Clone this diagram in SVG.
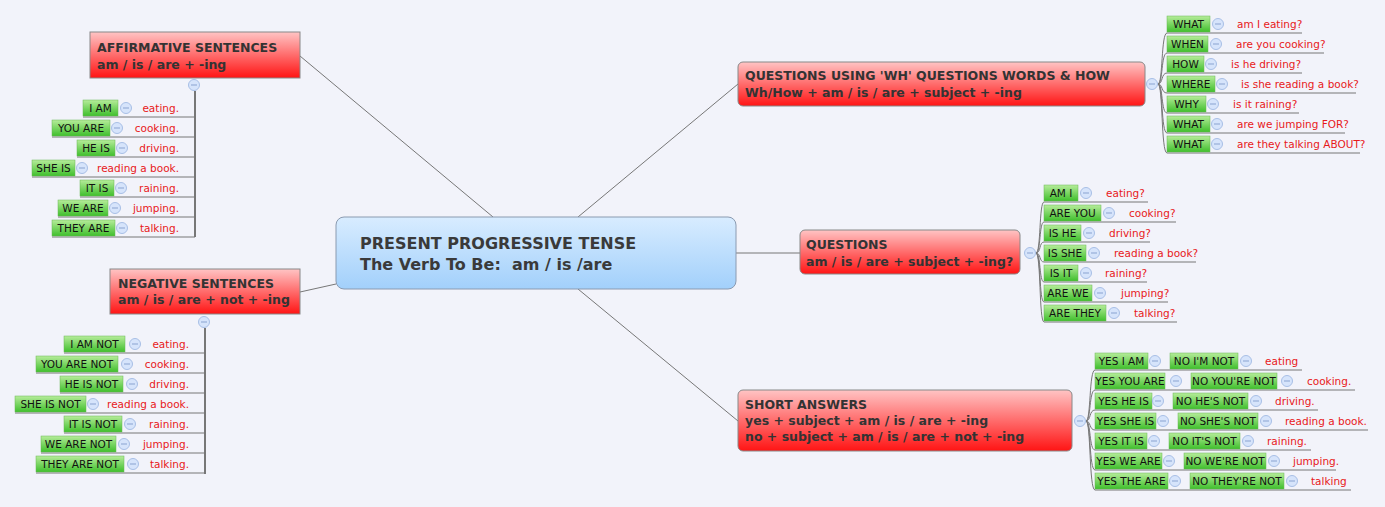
<svg xmlns="http://www.w3.org/2000/svg" xmlns:xlink="http://www.w3.org/1999/xlink" width="1385" height="507" viewBox="0 0 1385 507">
<style>
text{font-family:"DejaVu Sans","Liberation Sans",sans-serif}
.mt{font-size:16px;font-weight:bold;fill:#3a3a3a}
.st{font-size:12.5px;font-weight:bold;fill:#333}
.g{fill:url(#gg);stroke:#6ab855;stroke-width:0.5}
.gt{font-size:10.5px;fill:#111;text-anchor:middle}
.rt{font-size:10.5px;fill:#e8191b}
.ra{font-size:10.5px;fill:#e8191b;text-anchor:end}
.u{stroke:#777;stroke-width:1;fill:none}
.sub{fill:url(#rg);stroke:#888;stroke-width:1}
</style>
<defs>
<linearGradient id="gg" x1="0" y1="0" x2="0" y2="1"><stop offset="0" stop-color="#b6ec9a"/><stop offset="1" stop-color="#3fbf2c"/></linearGradient>
<linearGradient id="rg" x1="0" y1="0" x2="0" y2="1"><stop offset="0" stop-color="#ffc4c4"/><stop offset="1" stop-color="#ff1414"/></linearGradient>
<linearGradient id="bg" x1="0" y1="0" x2="0" y2="1"><stop offset="0" stop-color="#d8ecff"/><stop offset="1" stop-color="#a2d0fb"/></linearGradient>
<symbol id="c" viewBox="-7 -7 14 14" width="14" height="14" overflow="visible"><circle r="5.5" fill="#d6e4fb" stroke="#a8bfe6"/><line x1="-3" y1="0" x2="3" y2="0" stroke="#8aa3d0"/></symbol>
</defs>
<rect width="1385" height="507" fill="#f2f3fa"/>
<g id="connectors" stroke="#777" fill="none">
<line x1="493" y1="217" x2="300" y2="56"/>
<line x1="336" y1="284" x2="300" y2="292"/>
<line x1="578" y1="217" x2="738" y2="84"/>
<line x1="736" y1="253" x2="800" y2="253"/>
<line x1="578" y1="289" x2="738" y2="421"/>
<line x1="195" y1="91" x2="195" y2="237" stroke-width="2"/>
<line x1="205" y1="328" x2="205" y2="474" stroke-width="2"/>
<path d="M1158 84 C1163 84 1161 33 1167 33 M1158 84 C1163 84 1161 53 1167 53 M1158 84 C1163 84 1161 73 1167 73 M1158 84 C1163 84 1161 93 1167 93 M1158 84 C1163 84 1161 113 1167 113 M1158 84 C1163 84 1161 133 1167 133 M1158 84 C1163 84 1161 153 1167 153"/>
<path d="M1036 253 C1041 253 1039 202 1044 202 M1036 253 C1041 253 1039 222 1044 222 M1036 253 C1041 253 1039 242 1044 242 M1036 253 C1041 253 1039 262 1044 262 M1036 253 C1041 253 1039 282 1044 282 M1036 253 C1041 253 1039 302 1044 302 M1036 253 C1041 253 1039 322 1044 322"/>
<path d="M1086 421 C1091 421 1089 370 1095 370 M1086 421 C1091 421 1089 390 1095 390 M1086 421 C1091 421 1089 410 1095 410 M1086 421 C1091 421 1089 430 1095 430 M1086 421 C1091 421 1089 450 1095 450 M1086 421 C1091 421 1089 470 1095 470 M1086 421 C1091 421 1089 490 1095 490"/>
<path class="u" d="M83 117H195M52 137H195M77 157H195M32 177H195M80 197H195M58 217H195M52 237H195"/>
<path class="u" d="M64 353H205M36 373H205M60 393H205M15 413H205M64 433H205M41 453H205M36 473H205"/>
<path class="u" d="M1167 33H1302M1167 53H1324M1167 73H1302M1167 93H1356M1167 113H1299M1167 133H1345M1167 153H1360"/>
<path class="u" d="M1044 202H1148M1044 222H1176M1044 242H1150M1044 262H1196M1044 282H1147M1044 302H1168M1044 322H1177"/>
<path class="u" d="M1095 370H1302M1095 390H1355M1095 410H1318M1095 430H1368M1095 450H1311M1095 470H1336M1095 490H1351"/>
</g>
<g id="central">
<rect x="336" y="217" width="400" height="72" rx="8" fill="url(#bg)" stroke="#8a9ab0"/>
<text class="mt" x="360" y="249">PRESENT PROGRESSIVE TENSE</text>
<text class="mt" x="360" y="270" xml:space="preserve">The Verb To Be:  am / is /are</text>
</g>
<g id="affirmative">
<rect class="sub" x="90" y="32" width="210" height="46"/>
<text class="st" x="97" y="52">AFFIRMATIVE SENTENCES</text>
<text class="st" x="97" y="69">am / is / are + -ing</text>
<use href="#c" x="187" y="78"/>
<rect class="g" x="83" y="100" width="35" height="16"/><text class="gt" x="100.5" y="112">I AM</text><use href="#c" x="119" y="101"/><text class="ra" x="179" y="112">eating.</text>
<rect class="g" x="52" y="120" width="58" height="16"/><text class="gt" x="81" y="132">YOU ARE</text><use href="#c" x="110" y="121"/><text class="ra" x="179" y="132">cooking.</text>
<rect class="g" x="77" y="140" width="38" height="16"/><text class="gt" x="96" y="152">HE IS</text><use href="#c" x="115" y="141"/><text class="ra" x="179" y="152">driving.</text>
<rect class="g" x="32" y="160" width="43" height="16"/><text class="gt" x="53.5" y="172">SHE IS</text><use href="#c" x="75" y="161"/><text class="ra" x="179" y="172">reading a book.</text>
<rect class="g" x="80" y="180" width="34" height="16"/><text class="gt" x="97" y="192">IT IS</text><use href="#c" x="114" y="181"/><text class="ra" x="179" y="192">raining.</text>
<rect class="g" x="58" y="200" width="50" height="16"/><text class="gt" x="83" y="212">WE ARE</text><use href="#c" x="108" y="201"/><text class="ra" x="179" y="212">jumping.</text>
<rect class="g" x="52" y="220" width="63" height="16"/><text class="gt" x="83.5" y="232">THEY ARE</text><use href="#c" x="115" y="221"/><text class="ra" x="179" y="232">talking.</text>
</g>
<g id="negative">
<rect class="sub" x="110" y="269" width="190" height="45"/>
<text class="st" x="118" y="288">NEGATIVE SENTENCES</text>
<text class="st" x="118" y="304">am / is / are + not + -ing</text>
<use href="#c" x="197" y="315"/>
<rect class="g" x="64" y="336" width="61" height="16"/><text class="gt" x="94.5" y="348">I AM NOT</text><use href="#c" x="128" y="337"/><text class="ra" x="189" y="348">eating.</text>
<rect class="g" x="36" y="356" width="82" height="16"/><text class="gt" x="77" y="368">YOU ARE NOT</text><use href="#c" x="120" y="357"/><text class="ra" x="189" y="368">cooking.</text>
<rect class="g" x="60" y="376" width="63" height="16"/><text class="gt" x="91.5" y="388">HE IS NOT</text><use href="#c" x="125" y="377"/><text class="ra" x="189" y="388">driving.</text>
<rect class="g" x="15" y="396" width="71" height="16"/><text class="gt" x="50.5" y="408">SHE IS NOT</text><use href="#c" x="86" y="397"/><text class="ra" x="189" y="408">reading a book.</text>
<rect class="g" x="64" y="416" width="58" height="16"/><text class="gt" x="93" y="428">IT IS NOT</text><use href="#c" x="123" y="417"/><text class="ra" x="189" y="428">raining.</text>
<rect class="g" x="41" y="436" width="75" height="16"/><text class="gt" x="78.5" y="448">WE ARE NOT</text><use href="#c" x="117" y="437"/><text class="ra" x="189" y="448">jumping.</text>
<rect class="g" x="36" y="456" width="88" height="16"/><text class="gt" x="80" y="468">THEY ARE NOT</text><use href="#c" x="126" y="457"/><text class="ra" x="189" y="468">talking.</text>
</g>
<g id="wh-questions">
<rect class="sub" x="738" y="62" width="407" height="44" rx="5"/>
<text class="st" x="745" y="80">QUESTIONS USING 'WH' QUESTIONS WORDS &amp; HOW</text>
<text class="st" x="745" y="97">Wh/How + am / is / are + subject + -ing</text>
<use href="#c" x="1145" y="77"/>
<rect class="g" x="1167" y="16" width="43" height="16"/><text class="gt" x="1188.5" y="28">WHAT</text><use href="#c" x="1211" y="17"/><text class="rt" x="1237" y="28">am I eating?</text>
<rect class="g" x="1167" y="36" width="41" height="16"/><text class="gt" x="1187.5" y="48">WHEN</text><use href="#c" x="1209" y="37"/><text class="rt" x="1236" y="48">are you cooking?</text>
<rect class="g" x="1167" y="56" width="37" height="16"/><text class="gt" x="1185.5" y="68">HOW</text><use href="#c" x="1204" y="57"/><text class="rt" x="1231" y="68">is he driving?</text>
<rect class="g" x="1167" y="76" width="48" height="16"/><text class="gt" x="1191" y="88">WHERE</text><use href="#c" x="1215" y="77"/><text class="rt" x="1241" y="88">is she reading a book?</text>
<rect class="g" x="1167" y="96" width="39" height="16"/><text class="gt" x="1186.5" y="108">WHY</text><use href="#c" x="1206" y="97"/><text class="rt" x="1233" y="108">is it raining?</text>
<rect class="g" x="1167" y="116" width="43" height="16"/><text class="gt" x="1188.5" y="128">WHAT</text><use href="#c" x="1210" y="117"/><text class="rt" x="1237" y="128">are we jumping FOR?</text>
<rect class="g" x="1167" y="136" width="43" height="16"/><text class="gt" x="1188.5" y="148">WHAT</text><use href="#c" x="1210" y="137"/><text class="rt" x="1237" y="148">are they talking ABOUT?</text>
</g>
<g id="questions">
<rect class="sub" x="800" y="230" width="220" height="44" rx="5"/>
<text class="st" x="806" y="249">QUESTIONS</text>
<text class="st" x="806" y="266">am / is / are + subject + -ing?</text>
<use href="#c" x="1023" y="246"/>
<rect class="g" x="1044" y="185" width="34" height="16"/><text class="gt" x="1061" y="197">AM I</text><use href="#c" x="1079" y="186"/><text class="rt" x="1106" y="197">eating?</text>
<rect class="g" x="1044" y="205" width="57" height="16"/><text class="gt" x="1072.5" y="217">ARE YOU</text><use href="#c" x="1102" y="206"/><text class="rt" x="1129" y="217">cooking?</text>
<rect class="g" x="1044" y="225" width="37" height="16"/><text class="gt" x="1062.5" y="237">IS HE</text><use href="#c" x="1082" y="226"/><text class="rt" x="1109" y="237">driving?</text>
<rect class="g" x="1044" y="245" width="42" height="16"/><text class="gt" x="1065" y="257">IS SHE</text><use href="#c" x="1087" y="246"/><text class="rt" x="1114" y="257">reading a book?</text>
<rect class="g" x="1044" y="265" width="34" height="16"/><text class="gt" x="1061" y="277">IS IT</text><use href="#c" x="1079" y="266"/><text class="rt" x="1105" y="277">raining?</text>
<rect class="g" x="1044" y="285" width="48" height="16"/><text class="gt" x="1068" y="297">ARE WE</text><use href="#c" x="1093" y="286"/><text class="rt" x="1121" y="297">jumping?</text>
<rect class="g" x="1044" y="305" width="62" height="16"/><text class="gt" x="1075" y="317">ARE THEY</text><use href="#c" x="1107" y="306"/><text class="rt" x="1134" y="317">talking?</text>
</g>
<g id="short-answers">
<rect class="sub" x="738" y="390" width="334" height="61" rx="5"/>
<text class="st" x="745" y="409">SHORT ANSWERS</text>
<text class="st" x="745" y="425">yes + subject + am / is / are + -ing</text>
<text class="st" x="745" y="441">no + subject + am / is / are + not + -ing</text>
<use href="#c" x="1073" y="414"/>
<rect class="g" x="1095" y="353" width="53" height="16"/><text class="gt" x="1121.5" y="365">YES I AM</text><use href="#c" x="1148" y="354"/><rect class="g" x="1170" y="353" width="68" height="16"/><text class="gt" x="1204" y="365">NO I'M NOT</text><use href="#c" x="1239" y="354"/><text class="rt" x="1265" y="365">eating</text>
<rect class="g" x="1095" y="373" width="70" height="16"/><text class="gt" x="1130" y="385">YES YOU ARE</text><use href="#c" x="1169" y="374"/><rect class="g" x="1191" y="373" width="86" height="16"/><text class="gt" x="1234" y="385">NO YOU'RE NOT</text><use href="#c" x="1280" y="374"/><text class="rt" x="1307" y="385">cooking.</text>
<rect class="g" x="1095" y="393" width="57" height="16"/><text class="gt" x="1123.5" y="405">YES HE IS</text><use href="#c" x="1151" y="394"/><rect class="g" x="1173" y="393" width="75" height="16"/><text class="gt" x="1210.5" y="405">NO HE'S NOT</text><use href="#c" x="1249" y="394"/><text class="rt" x="1275" y="405">driving.</text>
<rect class="g" x="1095" y="413" width="61" height="16"/><text class="gt" x="1125.5" y="425">YES SHE IS</text><use href="#c" x="1156" y="414"/><rect class="g" x="1178" y="413" width="80" height="16"/><text class="gt" x="1218" y="425">NO SHE'S NOT</text><use href="#c" x="1259" y="414"/><text class="rt" x="1285" y="425">reading a book.</text>
<rect class="g" x="1095" y="433" width="52" height="16"/><text class="gt" x="1121" y="445">YES IT IS</text><use href="#c" x="1147" y="434"/><rect class="g" x="1169" y="433" width="71" height="16"/><text class="gt" x="1204.5" y="445">NO IT'S NOT</text><use href="#c" x="1241" y="434"/><text class="rt" x="1267" y="445">raining.</text>
<rect class="g" x="1095" y="453" width="67" height="16"/><text class="gt" x="1128.5" y="465">YES WE ARE</text><use href="#c" x="1162" y="454"/><rect class="g" x="1184" y="453" width="82" height="16"/><text class="gt" x="1225" y="465">NO WE'RE NOT</text><use href="#c" x="1267" y="454"/><text class="rt" x="1293" y="465">jumping.</text>
<rect class="g" x="1095" y="473" width="73" height="16"/><text class="gt" x="1131.5" y="485">YES THE ARE</text><use href="#c" x="1168" y="474"/><rect class="g" x="1190" y="473" width="94" height="16"/><text class="gt" x="1237" y="485">NO THEY'RE NOT</text><use href="#c" x="1285" y="474"/><text class="rt" x="1311" y="485">talking</text>
</g>
</svg>
